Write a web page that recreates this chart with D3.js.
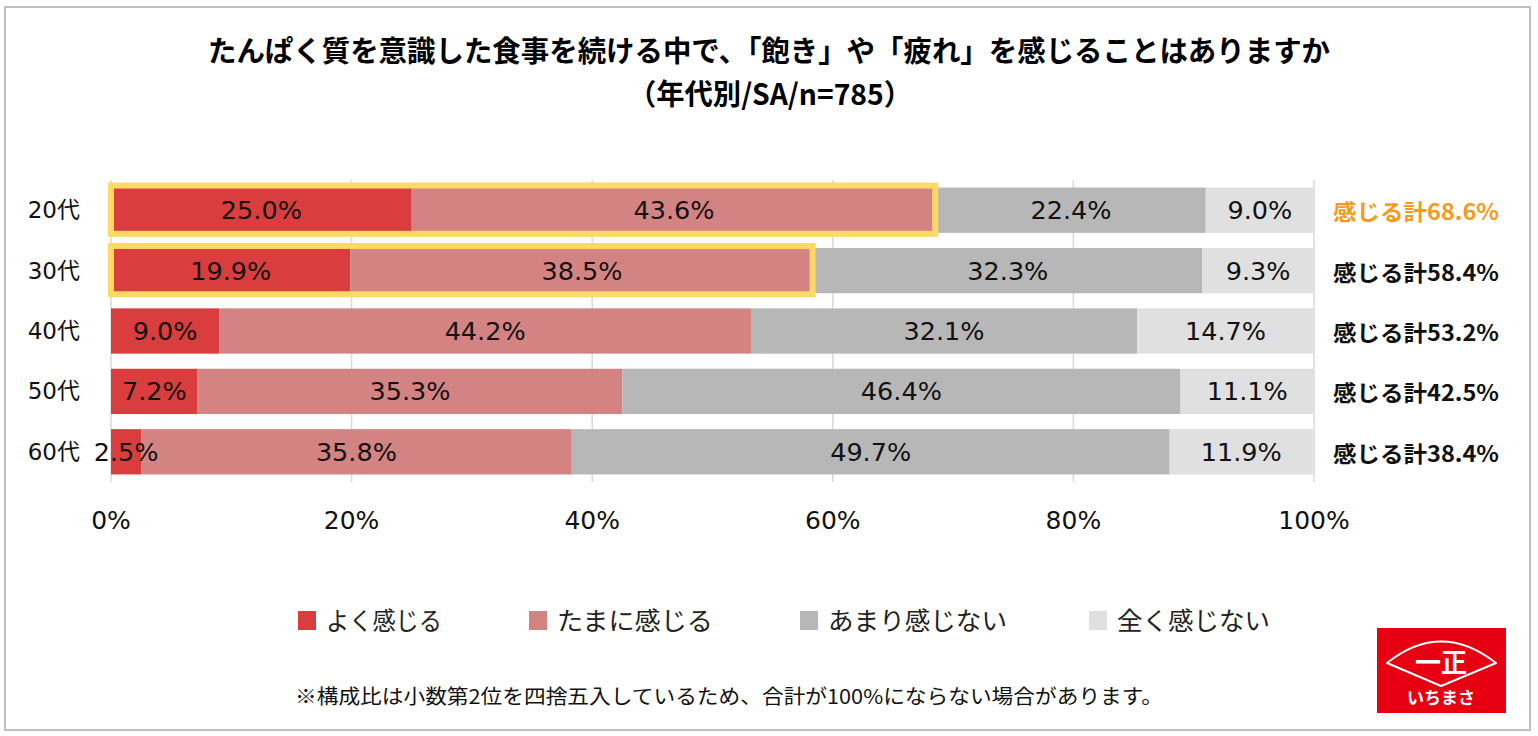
<!DOCTYPE html>
<html>
<head>
<meta charset="utf-8">
<script src="https://cdn.jsdelivr.net/npm/d3@7"></script>
<style>
  body { margin: 0; background: #fff; }
  svg { display: block; }
</style>
</head>
<body>
<svg id="chart" width="1538" height="736"></svg>
<script>
// chart data
var categories = ["20代", "30代", "40代", "50代", "60代"];
var seriesNames = ["よく感じる", "たまに感じる", "あまり感じない", "全く感じない"];
var often = [25.0, 19.9, 9.0, 7.2, 2.5];
var sometimes = [43.6, 38.5, 44.2, 35.3, 35.8];
var rarely = [22.4, 32.3, 32.1, 46.4, 49.7];
var never = [9.0, 9.3, 14.7, 11.1, 11.9];
var feelTotals = [68.6, 58.4, 53.2, 42.5, 38.4];
var xTicks = [0, 20, 40, 60, 80, 100];
var highlighted = ["20代", "30代"];
var colors = ["#DA3D3D", "#D48383", "#B7B7B7", "#E0E0E0"];

var svg = d3.select("#chart");
var cjk = "'Noto Sans CJK JP', sans-serif";
var num = "'DejaVu Sans', 'Noto Sans CJK JP', sans-serif";

// outer frame
svg.append("rect")
    .attr("x", 5).attr("y", 7)
    .attr("width", 1525).attr("height", 723)
    .attr("fill", "#fff")
    .attr("stroke", "#BFBFBF")
    .attr("stroke-width", 2);

// title
svg.append("text")
    .attr("x", 769).attr("y", 62)
    .attr("text-anchor", "middle")
    .attr("font-family", cjk)
    .attr("font-weight", "bold")
    .attr("font-size", 29)
    .attr("textLength", 1122)
    .attr("lengthAdjust", "spacingAndGlyphs")
    .text("たんぱく質を意識した食事を続ける中で、「飽き」や「疲れ」を感じることはありますか");

svg.append("text")
    .attr("x", 770).attr("y", 105)
    .attr("text-anchor", "middle")
    .attr("font-family", cjk)
    .attr("font-weight", "bold")
    .attr("font-size", 29)
    .attr("textLength", 284)
    .attr("lengthAdjust", "spacingAndGlyphs")
    .text("（年代別/SA/n=785）");

var x = d3.scaleLinear().domain([0, 100]).range([111, 1314]);
var y = d3.scaleBand().domain(categories).range([180, 482]).paddingInner(0.25).paddingOuter(0.125);

// gridlines
svg.append("g")
    .selectAll("line")
    .data(xTicks)
    .join("line")
    .attr("x1", d => x(d)).attr("x2", d => x(d))
    .attr("y1", 180).attr("y2", 482)
    .attr("stroke", "#D9D9D9")
    .attr("stroke-width", 1.5);

// tick labels
svg.append("g")
    .selectAll("text")
    .data(xTicks)
    .join("text")
    .attr("x", d => x(d))
    .attr("y", 529)
    .attr("text-anchor", "middle")
    .attr("font-family", num)
    .attr("font-size", 25)
    .attr("fill", "#111")
    .text(d => d + "%");

// stacked bars
var rows = categories.map((c, i) => ({
  cat: c, s0: often[i], s1: sometimes[i], s2: rarely[i], s3: never[i]
}));
var stack = d3.stack().keys(["s0", "s1", "s2", "s3"]);
var layers = stack(rows);

svg.append("g")
    .selectAll("g")
    .data(layers)
    .join("g")
    .attr("fill", (d, i) => colors[i])
    .selectAll("rect")
    .data(d => d)
    .join("rect")
    .attr("x", d => x(d[0]))
    .attr("y", d => y(d.data.cat))
    .attr("width", d => x(d[1]) - x(d[0]))
    .attr("height", y.bandwidth());

// highlight boxes
svg.append("g")
    .selectAll("rect")
    .data(rows.filter(r => highlighted.indexOf(r.cat) >= 0))
    .join("rect")
    .attr("x", x(0))
    .attr("y", d => y(d.cat) - 2)
    .attr("width", d => x(d.s0 + d.s1) - x(0) - 1)
    .attr("height", y.bandwidth() + 3)
    .attr("fill", "none")
    .attr("stroke", "#FFD966")
    .attr("stroke-width", 6);

// value labels (drawn above all bars)
svg.append("g")
    .selectAll("g")
    .data(layers)
    .join("g")
    .selectAll("text")
    .data(d => d)
    .join("text")
    .attr("x", d => (x(d[0]) + x(d[1])) / 2)
    .attr("y", d => y(d.data.cat) + y.bandwidth() / 2 + 9)
    .attr("text-anchor", "middle")
    .attr("font-family", num)
    .attr("font-size", 25.5)
    .attr("fill", "#111")
    .text(d => (d[1] - d[0]).toFixed(1) + "%");

// category labels
svg.append("g")
    .selectAll("text")
    .data(categories)
    .join("text")
    .attr("x", 80)
    .attr("y", d => y(d) + y.bandwidth() / 2 + 8)
    .attr("text-anchor", "end")
    .attr("font-family", num)
    .attr("font-size", 23)
    .attr("fill", "#111")
    .text(d => d);

// totals on right
svg.append("g")
    .selectAll("text")
    .data(categories)
    .join("text")
    .attr("x", 1333)
    .attr("y", d => y(d) + y.bandwidth() / 2 + 10)
    .attr("font-family", cjk)
    .attr("font-weight", "bold")
    .attr("font-size", 22)
    .attr("textLength", 166)
    .attr("lengthAdjust", "spacingAndGlyphs")
    .attr("fill", (d, i) => i === 0 ? "#F59A1B" : "#111")
    .text((d, i) => "感じる計" + feelTotals[i].toFixed(1) + "%");

// legend
var legendX = [298, 529, 800, 1089];
var legendW = [116, 156, 179, 153];
var legend = svg.append("g")
    .selectAll("g")
    .data(seriesNames)
    .join("g")
    .attr("transform", (d, i) => "translate(" + legendX[i] + ",611)");
legend.append("rect")
    .attr("width", 18).attr("height", 19)
    .attr("fill", (d, i) => colors[i]);
legend.append("text")
    .attr("x", 28).attr("y", 19)
    .attr("font-family", cjk)
    .attr("font-size", 25)
    .attr("textLength", (d, i) => legendW[i])
    .attr("lengthAdjust", "spacingAndGlyphs")
    .attr("fill", "#222")
    .text(d => d);

// footnote
svg.append("text")
    .attr("x", 295).attr("y", 704)
    .attr("font-family", cjk)
    .attr("font-size", 20)
    .attr("textLength", 868)
    .attr("lengthAdjust", "spacingAndGlyphs")
    .attr("fill", "#111")
    .text("※構成比は小数第2位を四捨五入しているため、合計が100%にならない場合があります。");

// logo
var logo = svg.append("g").attr("transform", "translate(1377,628)");
logo.append("rect").attr("width", 129).attr("height", 85).attr("fill", "#E60012");
logo.append("path")
    .attr("d", "M10,35 Q64,-8 119,35 L64,58 Z")
    .attr("fill", "none")
    .attr("stroke", "#fff")
    .attr("stroke-linejoin", "round")
    .attr("stroke-width", 2);
logo.append("text")
    .attr("x", 64).attr("y", 44)
    .attr("text-anchor", "middle")
    .attr("font-family", cjk)
    .attr("font-weight", "bold")
    .attr("font-size", 26)
    .attr("fill", "#fff")
    .text("一正");
logo.append("text")
    .attr("x", 64).attr("y", 76)
    .attr("text-anchor", "middle")
    .attr("font-family", cjk)
    .attr("font-weight", "bold")
    .attr("font-size", 17)
    .attr("fill", "#fff")
    .text("いちまさ");
</script>
</body>
</html>
